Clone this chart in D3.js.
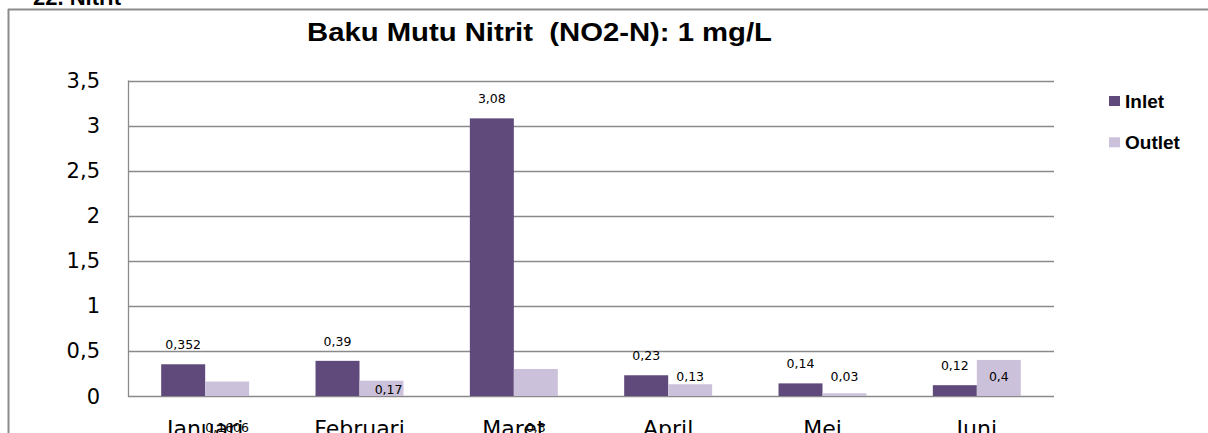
<!DOCTYPE html>
<html>
<head>
<meta charset="utf-8">
<script src="https://cdn.jsdelivr.net/npm/d3@7"></script>
<style>
  html, body { margin: 0; padding: 0; background: #fff; overflow: hidden; }
  svg { display: block; }
  .tick-label { font-family: "DejaVu Sans", sans-serif; font-size: 21px; fill: #000; }
  .x-label { font-family: "DejaVu Sans", sans-serif; font-size: 22px; fill: #000; }
  .value-label { font-family: "DejaVu Sans", sans-serif; font-size: 12.5px; fill: #000; }
  .title { font-family: "Liberation Sans", Arial, sans-serif; font-weight: bold; font-size: 25px; white-space: pre; }
  .legend { font-family: "Liberation Sans", Arial, sans-serif; font-weight: bold; font-size: 19px; }
</style>
</head>
<body>
<div id="chart"></div>
<script>
// values
let months = ["Januari", "Februari", "Maret", "April", "Mei", "Juni"];
let seriesNames = ["Inlet", "Outlet"];
let inlet = [0.352, 0.39, 3.08, 0.23, 0.14, 0.12];
let outlet = [0.1606, 0.17, 0.3, 0.13, 0.03, 0.4];
let inletLabels = ["0,352", "0,39", "3,08", "0,23", "0,14", "0,12"];
let outletLabels = ["0,1606", "0,17", "0,3", "0,13", "0,03", "0,4"];
let yTicks = [0, 0.5, 1, 1.5, 2, 2.5, 3, 3.5];
let yTickLabels = ["0", "0,5", "1", "1,5", "2", "2,5", "3", "3,5"];

// where excel happened to drop the outlet labels
let outletLabelMode = ["axis", "base", "axis", "low", "low", "low"];

let colors = {Inlet: "#604a7b", Outlet: "#ccc1da"};

let W = 1208, H = 433;
let plot = {left: 128, right: 1054, top: 80.5, bottom: 396};

let svg = d3.select("#chart").append("svg")
    .attr("width", W)
    .attr("height", H);

// outer frame (only left and top edges show)
svg.append("line")
    .attr("x1", 8.5).attr("x2", 8.5).attr("y1", 9).attr("y2", H)
    .attr("stroke", "#8c8c8c").attr("stroke-width", 2);
svg.append("line")
    .attr("x1", 8).attr("x2", W).attr("y1", 9.5).attr("y2", 9.5)
    .attr("stroke", "#8c8c8c").attr("stroke-width", 2);

// heading cut off at top of the page
svg.append("text")
    .attr("x", 33).attr("y", 5)
    .style("font-family", "Liberation Sans, Arial, sans-serif")
    .style("font-weight", "bold")
    .style("font-size", "22px")
    .text("22. Nitrit");

svg.append("text")
    .attr("class", "title")
    .attr("x", 307).attr("y", 41)
    .attr("textLength", 465)
    .attr("lengthAdjust", "spacingAndGlyphs")
    .text("Baku Mutu Nitrit  (NO2-N): 1 mg/L");

let x = d3.scaleBand()
    .domain(months)
    .range([plot.left, plot.right])
    .paddingInner(0.43)
    .paddingOuter(0.215);

let xSub = d3.scaleBand()
    .domain(seriesNames)
    .range([0, x.bandwidth()]);

let y = d3.scaleLinear()
    .domain([0, 3.5])
    .range([plot.bottom, plot.top]);

// gridlines
svg.append("g")
    .selectAll("line")
    .data(yTicks)
    .enter()
    .append("line")
    .attr("x1", plot.left)
    .attr("x2", plot.right)
    .attr("y1", function(d) { return Math.round(y(d)) + 0.5; })
    .attr("y2", function(d) { return Math.round(y(d)) + 0.5; })
    .attr("stroke", "#8a8a8a")
    .attr("stroke-width", 1.3);

// left axis line
svg.append("line")
    .attr("x1", plot.left + 0.5).attr("x2", plot.left + 0.5)
    .attr("y1", plot.top).attr("y2", plot.bottom + 1)
    .attr("stroke", "#8a8a8a").attr("stroke-width", 1.3);

// y tick labels
svg.append("g")
    .selectAll("text")
    .data(yTicks)
    .enter()
    .append("text")
    .attr("class", "tick-label")
    .attr("x", 100)
    .attr("y", function(d) { return y(d); })
    .attr("dy", "0.36em")
    .attr("text-anchor", "end")
    .text(function(d, i) { return yTickLabels[i]; });

// bars
let rows = months.map(function(m, i) {
    return {month: m, i: i, Inlet: inlet[i], Outlet: outlet[i]};
});

let groups = svg.append("g")
    .selectAll("g")
    .data(rows)
    .enter()
    .append("g")
    .attr("transform", function(d) { return "translate(" + x(d.month) + ",0)"; });

groups.selectAll("rect")
    .data(function(d) {
        return seriesNames.map(function(s) { return {key: s, value: d[s]}; });
    })
    .enter()
    .append("rect")
    .attr("x", function(d) { return xSub(d.key); })
    .attr("width", xSub.bandwidth())
    .attr("y", function(d) { return y(d.value); })
    .attr("height", function(d) { return y(0) - y(d.value); })
    .attr("fill", function(d) { return colors[d.key]; });

// x labels
svg.append("g")
    .selectAll("text")
    .data(months)
    .enter()
    .append("text")
    .attr("class", "x-label")
    .attr("x", function(d) { return x(d) + x.bandwidth() / 2; })
    .attr("y", 436)
    .attr("text-anchor", "middle")
    .text(function(d) { return d; });

// inlet value labels
svg.append("g")
    .selectAll("text")
    .data(rows)
    .enter()
    .append("text")
    .attr("class", "value-label")
    .attr("x", function(d) { return x(d.month) + xSub("Inlet") + xSub.bandwidth() / 2; })
    .attr("y", function(d) { return y(d.Inlet) - 15; })
    .attr("text-anchor", "middle")
    .text(function(d) { return inletLabels[d.i]; });

// outlet value labels
svg.append("g")
    .selectAll("text")
    .data(rows)
    .enter()
    .append("text")
    .attr("class", "value-label")
    .attr("x", function(d) {
        let left = x(d.month) + xSub("Outlet");
        if (outletLabelMode[d.i] == "base") {
            return left + xSub.bandwidth() - 1;
        }
        return left + xSub.bandwidth() / 2;
    })
    .attr("y", function(d) {
        let mode = outletLabelMode[d.i];
        if (mode == "axis") return 432;
        if (mode == "base") return y(0) - 2;
        return y(0) - 15;
    })
    .attr("text-anchor", function(d) {
        return outletLabelMode[d.i] == "base" ? "end" : "middle";
    })
    .text(function(d) { return outletLabels[d.i]; });

// legend
let legend = svg.append("g")
    .selectAll("g")
    .data(seriesNames)
    .enter()
    .append("g")
    .attr("transform", function(d, i) { return "translate(1109," + (96 + i * 41.3) + ")"; });

legend.append("rect")
    .attr("width", 11)
    .attr("height", 10)
    .attr("fill", function(d) { return colors[d]; });

legend.append("text")
    .attr("class", "legend")
    .attr("x", 16)
    .attr("y", 11.5)
    .text(function(d) { return d; });
</script>
</body>
</html>
